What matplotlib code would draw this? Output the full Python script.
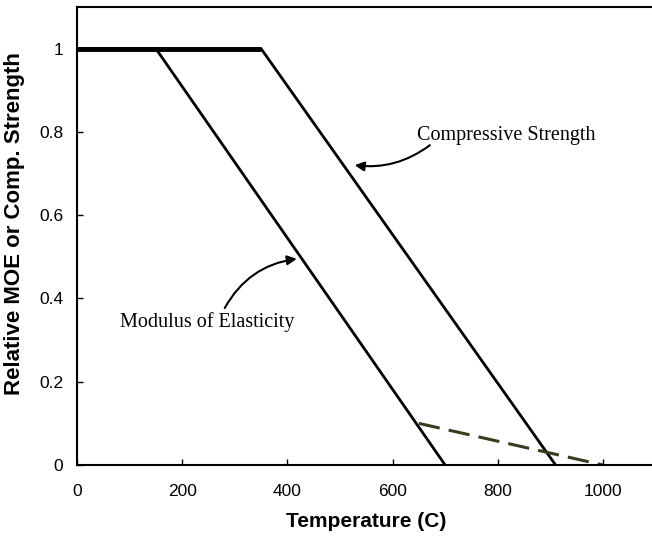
import matplotlib
matplotlib.use('Agg')
import matplotlib.pyplot as plt

# temperature (C) vs relative value
moe_temp = [0, 150, 700]
moe_val = [1.0, 1.0, 0.0]
comp_temp = [0, 350, 910]
comp_val = [1.0, 1.0, 0.0]
dash_temp = [650, 1000]
dash_val = [0.1, 0.0]

xticks = [0, 200, 400, 600, 800, 1000]
yticks = [0, 0.2, 0.4, 0.6, 0.8, 1]
ytick_labels = ['0', '0.2', '0.4', '0.6', '0.8', '1']

tick_font = ['Liberation Sans Narrow', 'Liberation Sans', 'DejaVu Sans']
serif = ['Liberation Serif', 'DejaVu Serif']

fig = plt.figure(figsize=(6.52, 5.41), dpi=100)
ax = fig.add_axes([0.118, 0.1405, 0.8874, 0.8466])

ax.plot(moe_temp, moe_val, color='black', lw=2, solid_capstyle='butt')
ax.plot(comp_temp, comp_val, color='black', lw=2, solid_capstyle='butt')
# plateau drawn heavier like the original
ax.plot(comp_temp[:2], comp_val[:2], color='black', lw=3.5, solid_capstyle='butt')
ax.plot(dash_temp, dash_val, color='#3b3b1e', lw=2.2, ls=(0, (7, 3)))

ax.set_xlim(0, 1100)
ax.set_ylim(0, 1.1)
ax.set_xticks(xticks)
ax.set_yticks(yticks)
ax.set_yticklabels(ytick_labels)
ax.tick_params(direction='in', length=4, width=1)
ax.tick_params(axis='x', pad=14)
ax.tick_params(axis='y', pad=10)
for lab in ax.get_xticklabels() + ax.get_yticklabels():
    lab.set_family(tick_font)
    lab.set_fontsize(12.5)
for sp in ax.spines.values():
    sp.set_linewidth(1.5)

ax.set_xlabel('Temperature (C)', family=['Liberation Sans', 'DejaVu Sans'],
              fontsize=15, fontweight='bold', labelpad=9)
ax.set_ylabel('Relative MOE or Comp. Strength', family=['Liberation Sans', 'DejaVu Sans'],
              fontsize=16, fontweight='bold')
ax.yaxis.set_label_coords(-0.09, 0.528)

ax.text(646, 0.78, 'Compressive Strength', family=serif, fontsize=14.5,
        ha='left', va='baseline')
ax.text(82, 0.331, 'Modulus of Elasticity', family=serif, fontsize=14.5,
        ha='left', va='baseline')

ax.annotate('', xy=(528, 0.72), xytext=(671, 0.768),
            arrowprops=dict(arrowstyle='-|>', color='black', lw=1.5,
                            connectionstyle='arc3,rad=-0.2', mutation_scale=14,
                            shrinkA=0, shrinkB=0))
ax.annotate('', xy=(418, 0.495), xytext=(281, 0.377),
            arrowprops=dict(arrowstyle='-|>', color='black', lw=1.5,
                            connectionstyle='arc3,rad=-0.25', mutation_scale=14,
                            shrinkA=0, shrinkB=0))

fig.savefig('out.png', dpi=100)
